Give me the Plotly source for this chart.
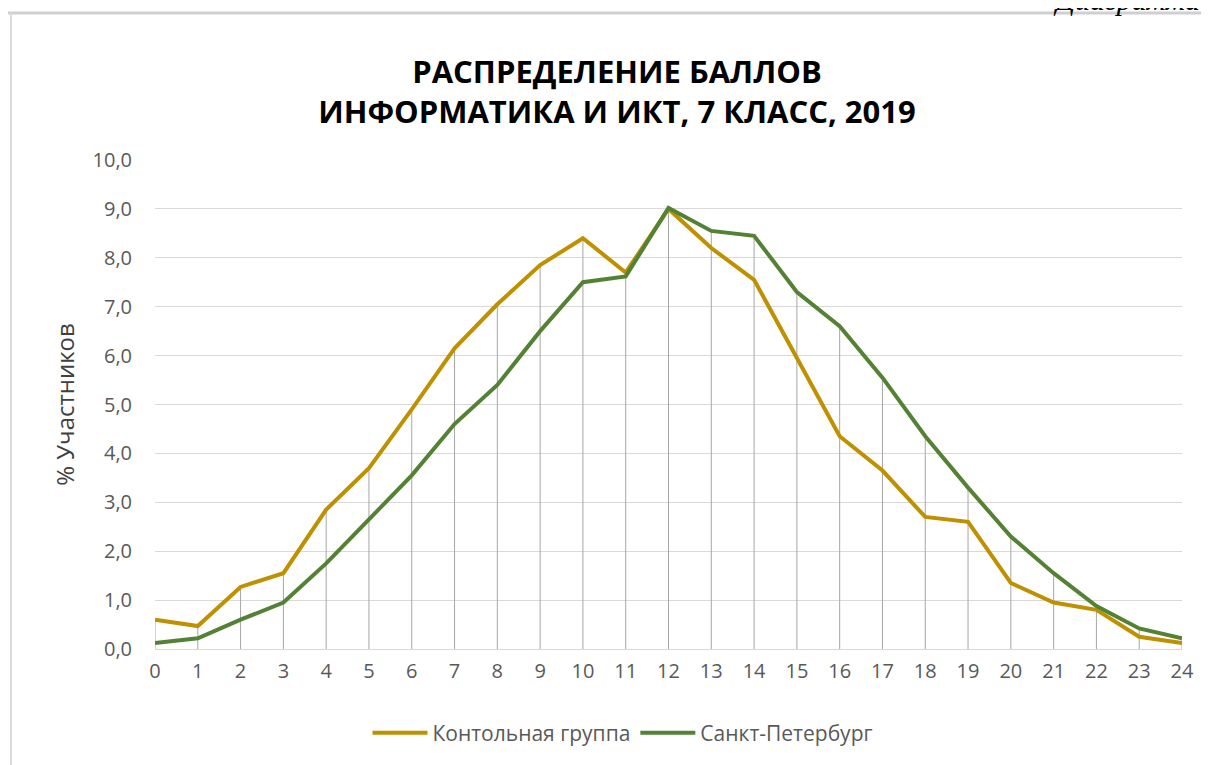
import plotly.graph_objects as go

scores = list(range(25))
control = [0.6, 0.47, 1.27, 1.55, 2.85, 3.7, 4.9, 6.15, 7.05, 7.85, 8.4, 7.7, 9.0,
           8.2, 7.55, 5.95, 4.35, 3.65, 2.7, 2.6, 1.35, 0.95, 0.8, 0.25, 0.12]
spb = [0.12, 0.22, 0.6, 0.95, 1.75, 2.65, 3.55, 4.6, 5.4, 6.5, 7.5, 7.62, 9.02,
       8.55, 8.45, 7.3, 6.6, 5.55, 4.35, 3.3, 2.3, 1.55, 0.88, 0.42, 0.22]
series_names = ["Контольная группа", "Санкт-Петербург"]
title_text = "РАСПРЕДЕЛЕНИЕ БАЛЛОВ<br>ИНФОРМАТИКА И ИКТ, 7 КЛАСС, 2019"
y_title = "% Участников"
y_ticks = [0, 1, 2, 3, 4, 5, 6, 7, 8, 9, 10]

FONT = "Open Sans"
GOLD = "#BF9000"
GREEN = "#548235"
TXT = "#595959"

# drop lines built from the data
dx, dy = [], []
for s, a, b in zip(scores, control, spb):
    dx += [s, s, None]
    dy += [0, max(a, b), None]

fig = go.Figure()
fig.add_trace(go.Scatter(x=dx, y=dy, mode="lines", line=dict(color="#A6A6A6", width=1),
                         showlegend=False, hoverinfo="skip"))
fig.add_trace(go.Scatter(x=scores, y=control, mode="lines", name=series_names[0],
                         line=dict(color=GOLD, width=4)))
fig.add_trace(go.Scatter(x=scores, y=spb, mode="lines", name=series_names[1],
                         line=dict(color=GREEN, width=4)))

OFF = 8  # page offset of the figure in the screenshot
W, H = 1209, 765
L = 155 - OFF
T = 160 - OFF
R = W - (1182 - OFF)
B = H - (649 - OFF)
pw, ph = W - L - R, H - T - B


def px_x(p):  # screenshot pixel -> paper x
    return (p - OFF - L) / pw


def px_y(p):  # screenshot pixel -> paper y
    return (H - B - (p - OFF)) / ph


fig.update_layout(
    width=W, height=H,
    margin=dict(l=L, r=R, t=T, b=B, pad=0),
    paper_bgcolor="white", plot_bgcolor="white",
    separators=", ",
    font=dict(family=FONT, color=TXT, size=16),
    title=dict(text=title_text, x=(617 - OFF) / W, xanchor="center", xref="container",
               y=1 - (83 - OFF) / H, yanchor="middle", yref="container",
               font=dict(family=FONT, size=31, color="#000000", weight="bold")),
    xaxis=dict(range=[0, 24], tickmode="array", tickvals=scores,
               ticktext=[str(s) for s in scores], showgrid=False, zeroline=False,
               showline=False, ticks="", tickfont=dict(size=20, color=TXT),
               ticklabelstandoff=8, fixedrange=True),
    yaxis=dict(range=[0, 10], tickmode="array", tickvals=y_ticks, tickformat=".1f",
               showgrid=True, gridcolor="#D9D9D9", gridwidth=1, zeroline=True,
               zerolinecolor="#D9D9D9", zerolinewidth=1, showline=False, ticks="",
               tickfont=dict(size=20, color=TXT), ticklabelstandoff=22,
               title=dict(text=y_title, font=dict(size=24, color="#404040"), standoff=11),
               fixedrange=True),
    legend=dict(orientation="h", x=px_x(623), xanchor="center", y=px_y(733),
                yanchor="middle", font=dict(size=21, color=TXT), itemwidth=55,
                tracegroupgap=0, bgcolor="rgba(0,0,0,0)"),
    showlegend=True,
    shapes=[
        dict(type="line", xref="paper", yref="paper", x0=px_x(0), x1=px_x(W + 10),
             y0=px_y(13), y1=px_y(13), line=dict(color="#D0D0D0", width=3), layer="above"),
        dict(type="line", xref="paper", yref="paper", x0=px_x(11), x1=px_x(11),
             y0=px_y(13), y1=px_y(H + 10), line=dict(color="#DADADA", width=2), layer="above"),
    ],
    annotations=[
        dict(text="<i>Диаграмма</i>", xref="paper", yref="paper", x=px_x(1202),
             xanchor="right", y=px_y(-1), yanchor="middle", showarrow=False,
             font=dict(family="Liberation Serif", size=30, color="#000000")),
    ],
)

fig.write_html("out.html")
